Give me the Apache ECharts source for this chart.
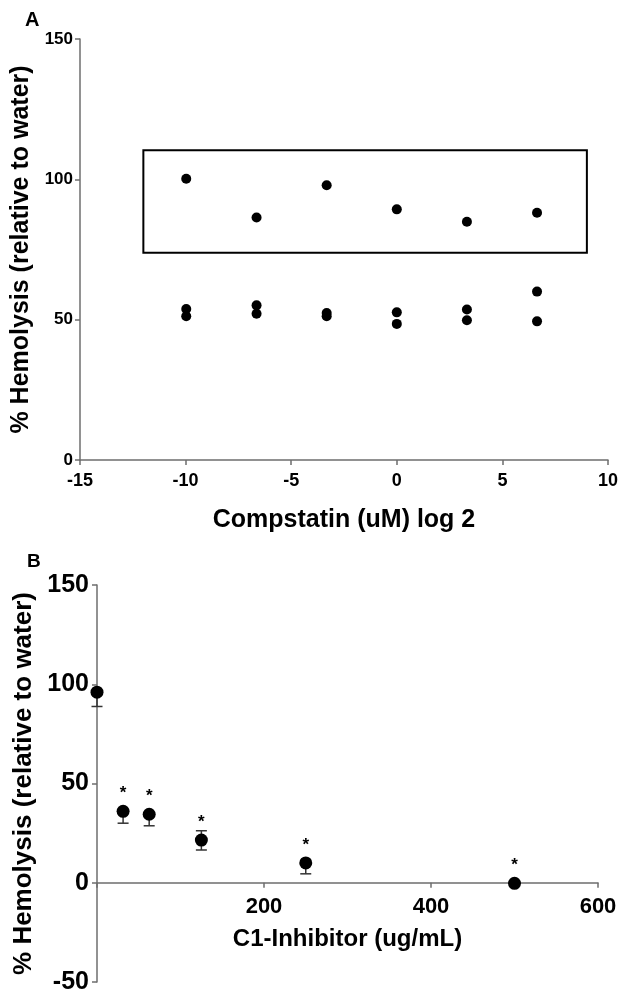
<!DOCTYPE html>
<html>
<head>
<meta charset="utf-8">
<script src="https://cdn.jsdelivr.net/npm/echarts@6/dist/echarts.min.js"></script>
<style>
html,body{margin:0;padding:0;background:#fff;}
#c{width:624px;height:991px;}
</style>
</head>
<body>
<div id="c"></div>
<script>
// ---------- Panel A data ----------
var compstatinLog2 = [-9.97, -6.64, -3.32, 0, 3.32, 6.64];
var repHigh = [100.2, 86.4, 97.9, 89.3, 84.9, 88.1];
var repMid  = [53.8, 55.1, 52.4, 52.6, 53.6, 60.0];
var repLow  = [51.2, 52.1, 51.2, 48.5, 49.8, 49.4];
var boxX = [-12, 9];
var boxY = [73.8, 110.4];
var yTicksA = [0, 50, 100, 150];
var xTicksA = [-15, -10, -5, 0, 5, 10];

// ---------- Panel B data ----------
var c1Conc = [0, 31.25, 62.5, 125, 250, 500];
var c1Mean = [96, 36, 34.5, 21.5, 10, -0.3];
var c1ErrLow = [7.2, 6, 5.8, 5, 5.5, 0];
var c1ErrHigh = [null, null, null, 4.7, null, null];
var c1Sig = ['', '*', '*', '*', '*', '*'];
var yTicksB = [-50, 0, 50, 100, 150];
var xTicksB = [0, 200, 400, 600];

var axisCol = '#6e6e6e';
var sans = '"Liberation Sans", Arial, sans-serif';

var gridB = {left: 97, width: 501, top: 585, height: 397};
var yMinB = yTicksB[0], yMaxB = yTicksB[yTicksB.length - 1];
var zeroOffsetB = -gridB.height * (0 - yMinB) / (yMaxB - yMinB);

function pairs(xs, ys) { return xs.map(function (x, i) { return [x, ys[i]]; }); }

var chart = echarts.init(document.getElementById('c'), null, {renderer: 'canvas'});

var option = {
  animation: false,
  backgroundColor: '#fff',
  graphic: [
    {type: 'text', left: 25, top: 10, style: {text: 'A', font: 'bold 20px ' + sans, fill: '#000'}},
    {type: 'text', left: 27, top: 552, style: {text: 'B', font: 'bold 19px ' + sans, fill: '#000'}}
  ],
  grid: [
    {left: 80, width: 528, top: 39, height: 421, outerBoundsMode: 'none'},
    {left: gridB.left, width: gridB.width, top: gridB.top, height: gridB.height, outerBoundsMode: 'none'}
  ],
  xAxis: [
    {
      gridIndex: 0, type: 'value', min: xTicksA[0], max: xTicksA[xTicksA.length - 1], interval: 5,
      name: 'Compstatin (uM) log 2', nameLocation: 'middle', nameGap: 48,
      nameTextStyle: {fontFamily: sans, fontWeight: 'bold', fontSize: 25, color: '#000'},
      axisLine: {onZero: false, lineStyle: {color: axisCol, width: 1.5}},
      axisTick: {show: true, length: 5, lineStyle: {color: axisCol, width: 1.5}},
      axisLabel: {fontFamily: sans, fontWeight: 'bold', fontSize: 18, color: '#000', margin: 12},
      splitLine: {show: false}
    },
    {
      gridIndex: 1, type: 'value', min: xTicksB[0], max: xTicksB[xTicksB.length - 1], interval: 200,
      position: 'bottom', offset: zeroOffsetB,
      name: 'C1-Inhibitor (ug/mL)', nameLocation: 'middle', nameGap: 45,
      nameTextStyle: {fontFamily: sans, fontWeight: 'bold', fontSize: 24, color: '#000'},
      axisLine: {onZero: false, lineStyle: {color: axisCol, width: 1.5}},
      axisTick: {show: true, length: 5, lineStyle: {color: axisCol, width: 1.5}},
      axisLabel: {fontFamily: sans, fontWeight: 'bold', fontSize: 22, color: '#000', margin: 13,
        formatter: function (v) { return v === 0 ? '' : String(v); }},
      splitLine: {show: false}
    }
  ],
  yAxis: [
    {
      gridIndex: 0, type: 'value', min: yTicksA[0], max: yTicksA[yTicksA.length - 1], interval: 50,
      name: '% Hemolysis (relative to water)', nameLocation: 'middle', nameGap: 37,
      nameTextStyle: {fontFamily: sans, fontWeight: 'bold', fontSize: 25, color: '#000'},
      axisLine: {show: true, onZero: false, lineStyle: {color: axisCol, width: 1.5}},
      axisTick: {show: true, length: 5, lineStyle: {color: axisCol, width: 1.5}},
      axisLabel: {fontFamily: sans, fontWeight: 'bold', fontSize: 17, color: '#000', margin: 7},
      splitLine: {show: false}
    },
    {
      gridIndex: 1, type: 'value', min: yMinB, max: yMaxB, interval: 50,
      name: '% Hemolysis (relative to water)', nameLocation: 'middle', nameGap: 60,
      nameTextStyle: {fontFamily: sans, fontWeight: 'bold', fontSize: 26, color: '#000'},
      axisLine: {show: true, onZero: false, lineStyle: {color: axisCol, width: 1.5}},
      axisTick: {show: true, length: 5, lineStyle: {color: axisCol, width: 1.5}},
      axisLabel: {fontFamily: sans, fontWeight: 'bold', fontSize: 25, color: '#000', margin: 8},
      splitLine: {show: false}
    }
  ],
  series: [
    {
      type: 'scatter', xAxisIndex: 0, yAxisIndex: 0, symbolSize: 10,
      itemStyle: {color: '#000', opacity: 1},
      data: pairs(compstatinLog2, repHigh),
      markArea: {
        silent: true,
        itemStyle: {color: 'rgba(0,0,0,0)', borderColor: '#000', borderWidth: 2},
        data: [[{coord: [boxX[0], boxY[1]]}, {coord: [boxX[1], boxY[0]]}]]
      }
    },
    {type: 'scatter', xAxisIndex: 0, yAxisIndex: 0, symbolSize: 10, itemStyle: {color: '#000', opacity: 1},
      data: pairs(compstatinLog2, repMid)},
    {type: 'scatter', xAxisIndex: 0, yAxisIndex: 0, symbolSize: 10, itemStyle: {color: '#000', opacity: 1},
      data: pairs(compstatinLog2, repLow)},
    {
      type: 'custom', xAxisIndex: 1, yAxisIndex: 1,
      data: c1Conc.map(function (x, i) {
        return [x, c1Mean[i], c1Mean[i] - c1ErrLow[i], c1ErrHigh[i] == null ? c1Mean[i] : c1Mean[i] + c1ErrHigh[i]];
      }),
      renderItem: function (params, api) {
        var x = api.value(0);
        var pm = api.coord([x, api.value(1)]);
        var pl = api.coord([x, api.value(2)]);
        var ph = api.coord([x, api.value(3)]);
        var w = 5.5;
        var st = {stroke: '#333', lineWidth: 1.5};
        var ch = [
          {type: 'line', shape: {x1: pm[0], y1: ph[1], x2: pm[0], y2: pl[1]}, style: st},
          {type: 'line', shape: {x1: pm[0] - w, y1: pl[1], x2: pm[0] + w, y2: pl[1]}, style: st}
        ];
        if (Math.abs(ph[1] - pm[1]) > 0.5) {
          ch.push({type: 'line', shape: {x1: pm[0] - w, y1: ph[1], x2: pm[0] + w, y2: ph[1]}, style: st});
        }
        return {type: 'group', children: ch};
      },
      z: 2
    },
    {
      type: 'scatter', xAxisIndex: 1, yAxisIndex: 1, symbolSize: 13, z: 3,
      itemStyle: {color: '#000', opacity: 1},
      data: c1Conc.map(function (x, i) { return [x, c1Mean[i]]; }),
      label: {
        show: true, position: 'top', distance: 3,
        fontFamily: sans, fontWeight: 'bold', fontSize: 17, color: '#000',
        formatter: function (p) { return c1Sig[p.dataIndex]; }
      }
    }
  ]
};
chart.setOption(option);
</script>
</body>
</html>
